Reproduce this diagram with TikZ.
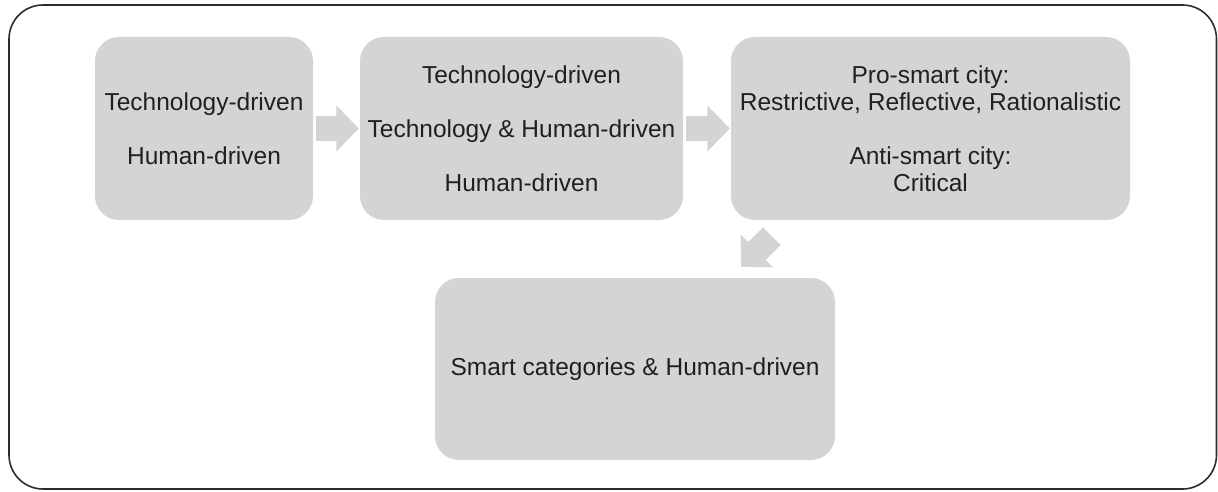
\documentclass[tikz,border=0pt]{standalone}
\usepackage{fontspec}
\setmainfont{Liberation Sans}
\usetikzlibrary{arrows.meta}
\definecolor{boxgray}{RGB}{211,212,214}
\definecolor{textgray}{RGB}{35,31,32}
\definecolor{framegray}{RGB}{45,45,45}
\begin{document}
\begin{tikzpicture}[x=1pt, y=1pt,
  box/.style={fill=boxgray, rounded corners=24pt, inner sep=2pt, align=center,
    text=textgray, font=\fontsize{24.5}{27}\selectfont},
  bigarrow/.style={draw=boxgray, line width=25pt, -{Triangle[width=45pt,length=22.5pt]}}]
  \useasboundingbox (0,0) rectangle (1218,491);
  \draw[framegray, line width=1.6pt, rounded corners=34pt] (9,2) rectangle (1216.5,486);
  \node[box, minimum width=218pt, minimum height=183pt] (drivers) at (204,362.5)
    {Technology-driven\\[27pt]Human-driven};
  \node[box, minimum width=323pt, minimum height=183pt] (stages) at (521.5,362.5)
    {Technology-driven\\[27pt]Technology \& Human-driven\\[27pt]Human-driven};
  \node[box, minimum width=399pt, minimum height=183pt] (views) at (930.5,362.5)
    {Pro-smart city:\\Restrictive, Reflective, Rationalistic\\[27pt]Anti-smart city:\\Critical};
  \node[box, minimum width=400pt, minimum height=182pt] (result) at (635,122)
    {Smart categories \& Human-driven};
  \coordinate (downtail) at ([shift={(41pt,-16pt)}]views.south west);
  \coordinate (downtip) at ([shift={(106pt,11pt)}]result.north);
  \draw[bigarrow] ([xshift=3pt]drivers.east) -- ([xshift=-1pt]stages.west);
  \draw[bigarrow] ([xshift=3pt]stages.east) -- ([xshift=-1pt]views.west);
  \draw[bigarrow] (downtail) -- (downtip);
\end{tikzpicture}
\end{document}
